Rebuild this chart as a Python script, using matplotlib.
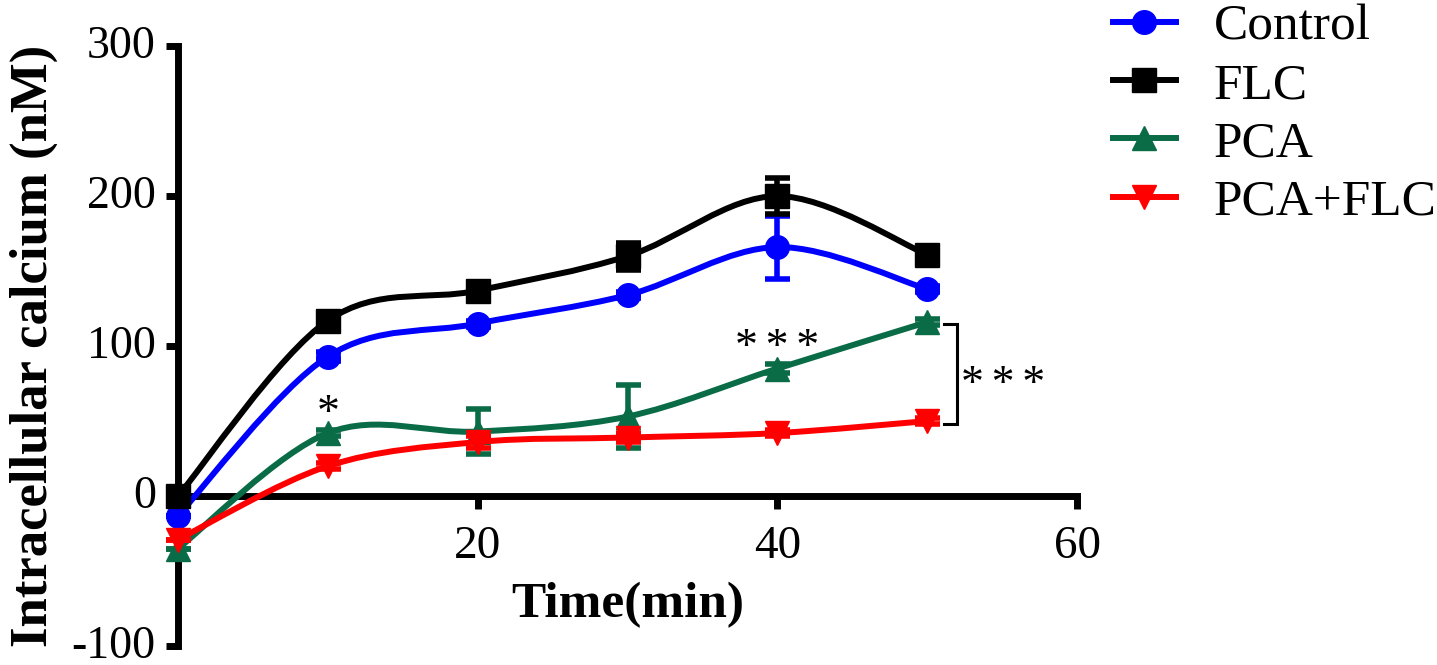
import numpy as np
import matplotlib
matplotlib.use("Agg")
import matplotlib.pyplot as plt
import matplotlib.transforms as mtransforms
from matplotlib.path import Path
from matplotlib.patches import PathPatch

plt.rcParams['font.family'] = ['Liberation Serif', 'DejaVu Serif']
plt.rcParams['axes.unicode_minus'] = False

# time points (min)
time = [0, 10, 20, 30, 40, 50]

# intracellular calcium (nM)
control = [-13, 93, 115, 134, 166, 138]
control_err = [0, 3, 2, 2, 21, 2]
flc = [0, 117, 137, 160, 200, 161]
flc_err = [0, 2, 2, 9, 12, 2]
pca = [-35, 42, 43, 53, 85, 116]
pca_err = [0, 2, 15, 21, 3, 2]
pca_flc = [-29, 20, 36, 39, 42, 50]
pca_flc_err = [0, 2, 4, 3, 2, 2]

labels = ['Control', 'FLC', 'PCA', 'PCA+FLC']
colors = ['#0000FF', '#000000', '#0A6B47', '#FF0000']
markers = ['o', 's', '^', 'v']


def smooth_path(xs, ys):
    # Catmull-Rom through the points, expressed as cubic Bezier segments
    pts = np.column_stack([xs, ys]).astype(float)
    ext = np.vstack([pts[0], pts, pts[-1]])
    verts = [pts[0]]
    codes = [Path.MOVETO]
    for i in range(1, len(ext) - 2):
        p0, p1, p2, p3 = ext[i - 1], ext[i], ext[i + 1], ext[i + 2]
        verts += [p1 + (p2 - p0) / 6, p2 - (p3 - p1) / 6, p2]
        codes += [Path.CURVE4] * 3
    return Path(verts, codes)


fig = plt.figure(figsize=(14.37, 6.65), dpi=100)
ax = fig.add_axes([0.1239, 0.0286, 0.6256, 0.902])

series = [(control, control_err), (flc, flc_err), (pca, pca_err), (pca_flc, pca_flc_err)]
handles = []
# draw PCA+FLC first so Control ends up on top
for idx in [3, 2, 1, 0]:
    vals, err = series[idx]
    c = colors[idx]
    ax.add_patch(PathPatch(smooth_path(time, vals), fill=False, edgecolor=c,
                           lw=4.3, zorder=3 + idx * 0.1, clip_on=False))
    ax.errorbar(time, vals, yerr=err, fmt='none', ecolor=c, elinewidth=4,
                capsize=9, capthick=4, zorder=3 + idx * 0.1, clip_on=False)
    ax.plot(time, vals, linestyle='none', marker=markers[idx], color=c,
            markersize=17, zorder=3.05 + idx * 0.1, clip_on=False)

for idx in range(4):
    h, = ax.plot([], [], color=colors[idx], lw=4.3, marker=markers[idx], markersize=17)
    handles.append(h)

ax.set_xlim(0, 60)
ax.set_ylim(-100, 300)
ax.set_xticks([20, 40, 60])
ax.set_yticks([-100, 0, 100, 200, 300])

ax.spines['top'].set_visible(False)
ax.spines['right'].set_visible(False)
ax.spines['bottom'].set_position(('data', 0))
ax.spines['left'].set_linewidth(5)
ax.spines['bottom'].set_linewidth(5)
ax.tick_params(direction='out', length=9, width=5, labelsize=33, pad=7)
ax.tick_params(axis='x', labelsize=34, pad=12)

# nudge y tick labels up a few pixels so -100 stays inside the figure
shift = mtransforms.ScaledTranslation(0, 4 / 100, fig.dpi_scale_trans)
for lab in ax.get_yticklabels():
    lab.set_transform(lab.get_transform() + shift)

ax.set_xlabel('Time(min)', fontsize=37, fontweight='bold', labelpad=10)
ax.set_ylabel('Intracellular calcium (nM)', fontsize=38, fontweight='bold', labelpad=10)

# significance marks
star3 = '*\u2006*\u2006*'
ax.text(10, 54.5, '*', fontsize=33, ha='center', va='center')
ax.text(40, 98.5, star3, fontsize=33, ha='center', va='center')
ax.plot([51.1, 52, 52, 51.1], [115, 115, 48, 48], color='black', lw=2.2,
        clip_on=False, solid_joinstyle='miter')
ax.text(55.1, 73.5, star3, fontsize=33, ha='center', va='center')

fig.legend(handles, labels, loc='upper left', bbox_to_anchor=(0.760, 1.025),
           frameon=False, fontsize=37, handlelength=1.23, handletextpad=0.74,
           labelspacing=0.22, borderaxespad=0)

fig.savefig('out.png', dpi=100)
